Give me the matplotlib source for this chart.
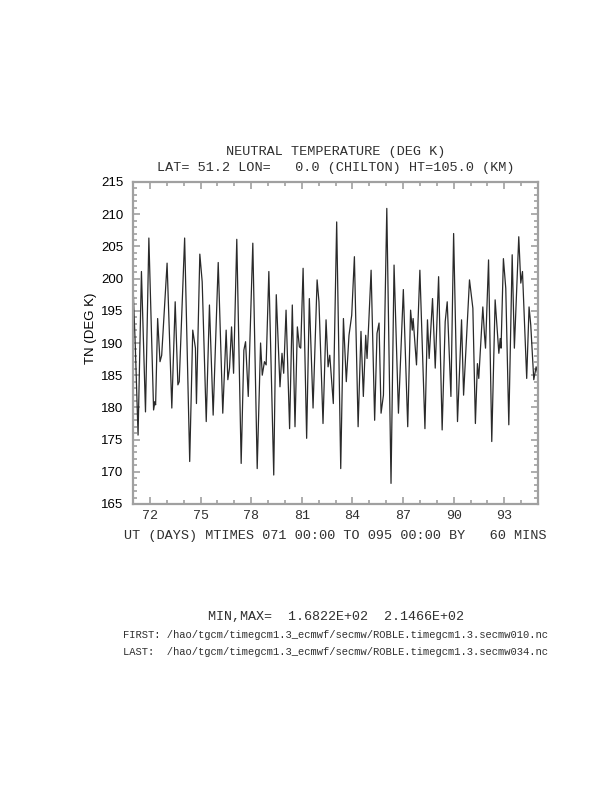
import matplotlib
matplotlib.use("Agg")
import matplotlib.pyplot as plt
from matplotlib.ticker import MultipleLocator

# turning points of the hourly neutral temperature series (day of year, K)
day = [71.00, 71.14, 71.30, 71.50, 71.74, 71.94, 72.22, 72.30, 72.34, 72.46,
       72.60, 72.70, 72.86, 73.02, 73.30, 73.50, 73.66, 73.74, 74.06, 74.36,
       74.54, 74.70, 74.76, 74.96, 75.10, 75.34, 75.53, 75.75, 76.05, 76.32,
       76.52, 76.62, 76.72, 76.84, 76.96, 77.15, 77.41, 77.57, 77.67, 77.83,
       78.10, 78.36, 78.56, 78.66, 78.79, 78.89, 79.05, 79.34, 79.49, 79.71,
       79.83, 79.93, 80.07, 80.28, 80.44, 80.60, 80.74, 80.86, 80.94, 81.08,
       81.29, 81.45, 81.67, 81.91, 82.02, 82.26, 82.44, 82.56, 82.66, 82.87,
       83.07, 83.31, 83.47, 83.64, 83.80, 83.96, 84.12, 84.34, 84.51, 84.65,
       84.79, 84.87, 84.97, 85.11, 85.32, 85.46, 85.58, 85.70, 85.84, 86.04,
       86.29, 86.47, 86.73, 87.02, 87.28, 87.45, 87.55, 87.60, 87.80, 88.00,
       88.30, 88.45, 88.55, 88.75, 88.91, 89.11, 89.32, 89.50, 89.62, 89.84,
       90.00, 90.23, 90.47, 90.59, 90.94, 91.14, 91.29, 91.41, 91.49, 91.73,
       91.83, 91.89, 92.07, 92.26, 92.46, 92.68, 92.76, 92.81, 92.95, 93.09,
       93.27, 93.47, 93.60, 93.86, 93.98, 94.08, 94.33, 94.47, 94.57, 94.75,
       94.89, 95.00]
tn = [199.0, 189.2, 175.7, 201.1, 179.3, 206.3, 179.6, 180.9, 180.4, 193.8,
      187.1, 188.1, 195.4, 202.4, 179.9, 196.4, 183.5, 184.0, 206.3, 171.6,
      192.0, 189.2, 180.6, 203.8, 199.5, 177.8, 195.9, 178.8, 202.5, 179.1,
      192.0, 184.3, 186.1, 192.5, 185.3, 206.1, 171.3, 188.9, 190.2, 181.7,
      205.5, 170.5, 190.0, 185.0, 187.1, 186.6, 201.1, 169.5, 197.5, 183.2,
      188.4, 185.3, 195.1, 176.7, 195.9, 177.0, 192.5, 189.4, 189.2, 201.6,
      175.2, 196.9, 179.9, 199.8, 196.4, 177.5, 193.6, 186.3, 188.1, 180.6,
      208.8, 170.5, 193.8, 184.0, 191.2, 194.3, 203.4, 177.0, 191.8, 181.7,
      191.2, 187.6, 193.1, 201.3, 178.0, 191.5, 193.1, 179.1, 181.9, 210.9,
      168.2, 202.1, 179.1, 198.3, 177.0, 195.1, 192.0, 193.8, 186.6, 201.3,
      176.7, 193.6, 187.6, 196.9, 186.1, 200.3, 176.5, 193.3, 196.4, 181.7,
      207.0, 177.8, 193.6, 181.9, 199.8, 195.4, 177.5, 186.8, 184.5, 195.6,
      191.2, 189.2, 202.9, 174.7, 196.7, 188.4, 190.7, 189.2, 203.1, 198.5,
      177.3, 203.7, 189.2, 206.5, 199.3, 201.1, 184.5, 195.6, 192.8, 184.3,
      186.3, 185.0]

xticks = [72, 75, 78, 81, 84, 87, 90, 93]
yticks = [165, 170, 175, 180, 185, 190, 195, 200, 205, 210, 215]

title1 = "NEUTRAL TEMPERATURE (DEG K)"
title2 = "LAT= 51.2 LON=   0.0 (CHILTON) HT=105.0 (KM)"
xlab = "UT (DAYS) MTIMES 071 00:00 TO 095 00:00 BY   60 MINS"
minmax = "MIN,MAX=  1.6822E+02  2.1466E+02"
first = "FIRST: /hao/tgcm/timegcm1.3_ecmwf/secmw/ROBLE.timegcm1.3.secmw010.nc"
last = "LAST:  /hao/tgcm/timegcm1.3_ecmwf/secmw/ROBLE.timegcm1.3.secmw034.nc"

W, H = 612, 792
mono = "Liberation Mono"
sans = "Liberation Sans"
spine_c = "#a0a0a0"
txt_c = "#303030"

fig = plt.figure(figsize=(W / 100, H / 100), dpi=100)
ax = fig.add_axes([133 / W, 1 - 504 / H, 405 / W, 322 / H])

ax.plot(day, tn, color="#2a2a2a", lw=0.9)
ax.set_xlim(71, 95)
ax.set_ylim(165, 215)

ax.set_xticks(xticks)
ax.set_yticks(yticks)
ax.xaxis.set_minor_locator(MultipleLocator(1))
ax.yaxis.set_minor_locator(MultipleLocator(1))
ax.tick_params(which="both", direction="in", top=True, right=True,
               color=spine_c, width=1.2)
ax.tick_params(which="major", length=5)
ax.tick_params(which="minor", length=2.6)
ax.tick_params(axis="x", pad=4)
ax.tick_params(axis="y", pad=7)
for lab in ax.get_xticklabels():
    lab.set_fontfamily(mono)
    lab.set_fontsize(9.6)
    lab.set_color(txt_c)
for lab in ax.get_yticklabels():
    lab.set_fontfamily(sans)
    lab.set_fontsize(9.5)
for s in ax.spines.values():
    s.set_color(spine_c)
    s.set_linewidth(1.6)

cx = 335.5 / W
fig.text(cx, 1 - 151.5 / H, title1, ha="center", va="center",
         family=mono, fontsize=9.7, color=txt_c)
fig.text(cx, 1 - 167.5 / H, title2, ha="center", va="center",
         family=mono, fontsize=9.7, color=txt_c)
fig.text(cx, 1 - 536 / H, xlab, ha="center", va="center",
         family=mono, fontsize=9.7, color=txt_c)
fig.text(91 / W, 1 - 328 / H, "TN (DEG K)", ha="center", va="center",
         rotation=90, family=sans, fontsize=9.5)
fig.text(cx, 1 - 617 / H, minmax, ha="center", va="center",
         family=mono, fontsize=9.6, color=txt_c)
fig.text(123 / W, 1 - 635 / H, first, ha="left", va="center",
         family=mono, fontsize=7.55, color=txt_c)
fig.text(123 / W, 1 - 652 / H, last, ha="left", va="center",
         family=mono, fontsize=7.55, color=txt_c)

fig.savefig("out.png", dpi=100)
